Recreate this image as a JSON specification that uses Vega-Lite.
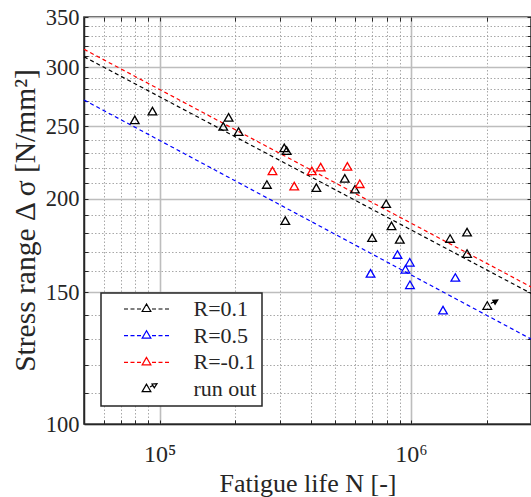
{
  "$schema": "https://vega.github.io/schema/vega-lite/v6.json",
  "width": 447,
  "height": 407,
  "autosize": {"type": "none"},
  "padding": {"left": 84, "top": 17, "right": 0, "bottom": 73},
  "background": "white",
  "config": {
    "view": {"stroke": "#262626", "strokeWidth": 1.5},
    "font": "Liberation Serif"
  },
  "datasets": {
    "fits": [
      {"series": "R=0.1", "N": 50000, "S": 309.7},
      {"series": "R=0.1", "N": 3000000, "S": 149.5},
      {"series": "R=0.5", "N": 50000, "S": 271.1},
      {"series": "R=0.5", "N": 3000000, "S": 129.9},
      {"series": "R=-0.1", "N": 50000, "S": 316.9},
      {"series": "R=-0.1", "N": 3000000, "S": 152.5}
    ],
    "tests": [
      {"series": "R=0.1", "N": 79600, "S": 255},
      {"series": "R=0.1", "N": 93600, "S": 262},
      {"series": "R=0.1", "N": 188000, "S": 257},
      {"series": "R=0.1", "N": 179000, "S": 250},
      {"series": "R=0.1", "N": 206000, "S": 246},
      {"series": "R=0.1", "N": 313000, "S": 234},
      {"series": "R=0.1", "N": 320000, "S": 232},
      {"series": "R=0.1", "N": 267000, "S": 209},
      {"series": "R=0.1", "N": 316000, "S": 187},
      {"series": "R=0.1", "N": 420000, "S": 207},
      {"series": "R=0.1", "N": 545000, "S": 213},
      {"series": "R=0.1", "N": 598000, "S": 206},
      {"series": "R=0.1", "N": 796000, "S": 197},
      {"series": "R=0.1", "N": 836000, "S": 184},
      {"series": "R=0.1", "N": 700000, "S": 177.5},
      {"series": "R=0.1", "N": 902000, "S": 176.5},
      {"series": "R=0.1", "N": 1430000, "S": 177},
      {"series": "R=0.1", "N": 1670000, "S": 180.5},
      {"series": "R=0.1", "N": 1670000, "S": 169},
      {"series": "R=-0.1", "N": 281000, "S": 218},
      {"series": "R=-0.1", "N": 343000, "S": 208},
      {"series": "R=-0.1", "N": 403000, "S": 218},
      {"series": "R=-0.1", "N": 437000, "S": 220.5},
      {"series": "R=-0.1", "N": 558000, "S": 221},
      {"series": "R=-0.1", "N": 625000, "S": 209.5},
      {"series": "R=0.5", "N": 883000, "S": 168.5},
      {"series": "R=0.5", "N": 988000, "S": 164.5},
      {"series": "R=0.5", "N": 950000, "S": 161},
      {"series": "R=0.5", "N": 690000, "S": 159},
      {"series": "R=0.5", "N": 990000, "S": 153.5},
      {"series": "R=0.5", "N": 1500000, "S": 157},
      {"series": "R=0.5", "N": 1340000, "S": 142},
      {"series": "run out", "N": 2010000, "S": 144}
    ]
  },
  "layer": [
    {
      "data": {"name": "fits"},
      "mark": {"type": "line", "strokeDash": [4, 3], "strokeWidth": 1.2},
      "encoding": {
        "x": {
          "field": "N", "type": "quantitative",
          "scale": {"type": "log", "domain": [50000, 3000000], "nice": false},
          "axis": {
            "orient": "bottom",
            "values": [60000, 70000, 80000, 90000, 100000, 200000, 300000, 400000, 500000, 600000, 700000, 800000, 900000, 1000000, 2000000],
            "labelExpr": "datum.value == 100000 ? '10⁵' : (datum.value == 1000000 ? '10⁶' : '')",
            "labelOverlap": false, "labelFlush": false, "labelBound": false,
            "grid": true,
            "gridDash": {"condition": {"test": "datum.value == 100000 || datum.value == 1000000", "value": []}, "value": [1.5, 2]},
            "gridColor": {"condition": {"test": "datum.value == 100000 || datum.value == 1000000", "value": "#bdbdbd"}, "value": "#a8a8a8"},
            "gridWidth": {"condition": {"test": "datum.value == 100000 || datum.value == 1000000", "value": 1.6}, "value": 1},
            "tickSize": -4, "tickColor": "#262626", "tickWidth": 1,
            "domainColor": "#262626", "domainWidth": 1.5,
            "labelFont": "Liberation Serif", "labelFontSize": 24, "labelColor": "#262626", "labelPadding": 22,
            "title": "Fatigue life N [-]", "titleFont": "Liberation Serif", "titleFontSize": 26,
            "titleFontWeight": "normal", "titleColor": "#262626", "titlePadding": 4
          }
        },
        "y": {
          "field": "S", "type": "quantitative",
          "scale": {"type": "log", "domain": [100, 350], "nice": false},
          "axis": {
            "orient": "left",
            "values": [100, 110, 120, 130, 140, 150, 160, 170, 180, 190, 200, 210, 220, 230, 240, 250, 260, 270, 280, 290, 300, 310, 320, 330, 340, 350],
            "labelExpr": "datum.value % 50 == 0 ? datum.label : ''",
            "labelOverlap": false, "labelFlush": false, "labelBound": false,
            "grid": true,
            "gridDash": {"condition": {"test": "datum.value % 50 == 0", "value": []}, "value": [1.5, 2]},
            "gridColor": {"condition": {"test": "datum.value % 50 == 0", "value": "#bdbdbd"}, "value": "#a8a8a8"},
            "gridWidth": {"condition": {"test": "datum.value % 50 == 0", "value": 1.6}, "value": 1},
            "tickSize": -4, "tickColor": "#262626", "tickWidth": 1,
            "domainColor": "#262626", "domainWidth": 1.5,
            "labelFont": "Liberation Serif", "labelFontSize": 22.5, "labelColor": "#262626", "labelPadding": 9,
            "title": "Stress range Δ σ [N/mm²]", "titleFont": "Liberation Serif", "titleFontSize": 29.5,
            "titleFontWeight": "normal", "titleColor": "#262626", "titlePadding": 5, "titleY": 203
          }
        },
        "color": {
          "field": "series", "type": "nominal",
          "scale": {"domain": ["R=0.1", "R=0.5", "R=-0.1", "run out"], "range": ["#000000", "#0000ff", "#ff0000", "#000000"]},
          "legend": {
            "orient": "none", "legendX": 17, "legendY": 276, "title": null,
            "padding": 5, "strokeColor": "#262626", "fillColor": "white",
            "labelFont": "Liberation Serif", "labelFontSize": 22, "labelColor": "#262626",
            "symbolSize": 100, "symbolOffset": 29.5, "labelOffset": 36, "rowPadding": 4.7,
            "symbolStrokeWidth": 1.2,
            "encode": {
              "symbols": {"update": {
                "shape": {"signal": "datum.value === 'run out' ? 'M0,-1L-0.87,0.5L0.87,0.5ZM0.7,-0.4L1.3,-0.75M2.1,-1.1L1.56,-0.25L1.1,-1.03Z' : 'M-4.5,0H-3.7M-3.2,0H-2.4M-1.9,0H-1.1M1.1,0H1.9M2.4,0H3.2M3.7,0H4.5M0,-1L-0.87,0.5L0.87,0.5Z'"},
                "strokeDash": {"value": []},
                "strokeWidth": {"value": 1.2},
                "fill": {"value": "transparent"},
                "opacity": {"value": 1}
              }},
              "legend": {"update": {"strokeWidth": {"value": 1.5}}}
            }
          }
        }
      }
    },
    {
      "data": {"name": "tests"},
      "mark": {"type": "point", "shape": "triangle-up", "filled": false, "size": 75, "strokeWidth": 1.3, "opacity": 1},
      "encoding": {
        "x": {
          "field": "N", "type": "quantitative",
          "axis": {
            "orient": "top",
            "values": [60000, 70000, 80000, 90000, 100000, 200000, 300000, 400000, 500000, 600000, 700000, 800000, 900000, 1000000, 2000000],
            "labels": false, "grid": false, "domain": false, "title": null,
            "tickSize": -4, "tickColor": "#262626", "tickWidth": 1
          }
        },
        "y": {
          "field": "S", "type": "quantitative",
          "axis": {
            "orient": "right",
            "values": [100, 110, 120, 130, 140, 150, 160, 170, 180, 190, 200, 210, 220, 230, 240, 250, 260, 270, 280, 290, 300, 310, 320, 330, 340, 350],
            "labels": false, "grid": false, "domain": false, "title": null,
            "tickSize": -4, "tickColor": "#262626", "tickWidth": 1
          }
        },
        "color": {
          "field": "series", "type": "nominal",
          "legend": {
            "orient": "none", "legendX": 17, "legendY": 276, "title": null,
            "padding": 5, "strokeColor": "#262626", "fillColor": "white",
            "labelFont": "Liberation Serif", "labelFontSize": 22, "labelColor": "#262626",
            "symbolSize": 100, "symbolOffset": 29.5, "labelOffset": 36, "rowPadding": 4.7,
            "symbolStrokeWidth": 1.2,
            "encode": {
              "symbols": {"update": {
                "shape": {"signal": "datum.value === 'run out' ? 'M0,-1L-0.87,0.5L0.87,0.5ZM0.7,-0.4L1.3,-0.75M2.1,-1.1L1.56,-0.25L1.1,-1.03Z' : 'M-4.5,0H-3.7M-3.2,0H-2.4M-1.9,0H-1.1M1.1,0H1.9M2.4,0H3.2M3.7,0H4.5M0,-1L-0.87,0.5L0.87,0.5Z'"},
                "strokeDash": {"value": []},
                "strokeWidth": {"value": 1.2},
                "fill": {"value": "transparent"},
                "opacity": {"value": 1}
              }},
              "legend": {"update": {"strokeWidth": {"value": 1.5}}}
            }
          }
        }
      }
    },
    {
      "data": {"name": "tests"},
      "transform": [{"filter": "datum.series === 'run out'"}],
      "mark": {"type": "point", "shape": "M0.7,-0.4L1.3,-0.75M2.1,-1.1L1.56,-0.25L1.1,-1.03Z", "filled": true, "size": 100, "color": "#000000", "stroke": "#000000", "strokeWidth": 1.2, "opacity": 1},
      "encoding": {
        "x": {"field": "N", "type": "quantitative", "axis": null},
        "y": {"field": "S", "type": "quantitative", "axis": null}
      }
    }
  ],
  "resolve": {"axis": {"x": "independent", "y": "independent"}}
}
